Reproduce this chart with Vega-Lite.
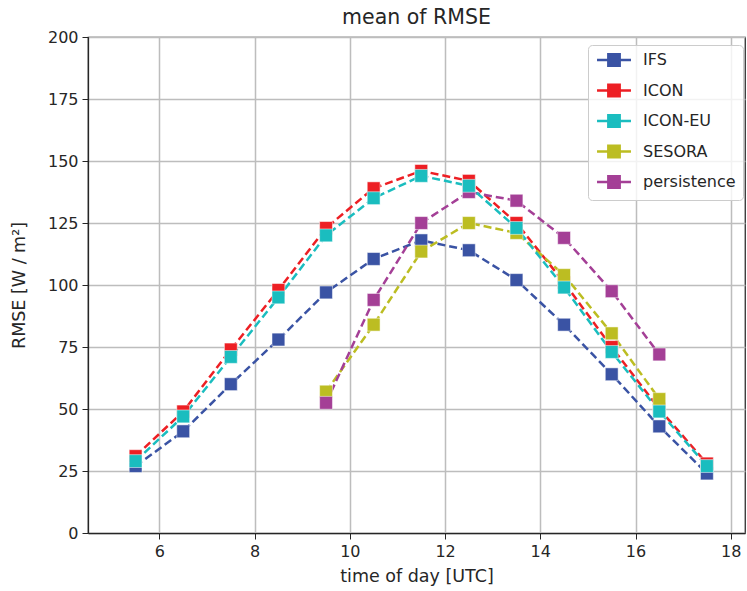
{
  "$schema": "https://vega.github.io/schema/vega-lite/v6.json",
  "width": 657,
  "height": 496,
  "autosize": {"type": "none"},
  "padding": {"left": 88, "top": 37, "right": 2, "bottom": 58},
  "title": {"text": "mean of RMSE", "fontSize": 20.5, "font": "DejaVu Sans", "fontWeight": "normal", "color": "#262626", "offset": 1},
  "config": {
    "font": "DejaVu Sans",
    "view": {"stroke": "#262626", "strokeWidth": 1.25},
    "axis": {"gridColor": "#bdbdbd", "gridWidth": 1.5, "gridOpacity": 1, "domainColor": "#262626", "domainWidth": 1.25, "tickColor": "#262626", "tickSize": 6, "labelFontSize": 16, "labelColor": "#262626", "titleFontSize": 17.5, "titleColor": "#262626", "titleFontWeight": "normal", "labelPadding": 4}
  },
  "data": {"values": [
    {"series": "IFS", "t": 5.5, "v": 27}, {"series": "IFS", "t": 6.5, "v": 41}, {"series": "IFS", "t": 7.5, "v": 60}, {"series": "IFS", "t": 8.5, "v": 78}, {"series": "IFS", "t": 9.5, "v": 97}, {"series": "IFS", "t": 10.5, "v": 110.5}, {"series": "IFS", "t": 11.5, "v": 118}, {"series": "IFS", "t": 12.5, "v": 114}, {"series": "IFS", "t": 13.5, "v": 102}, {"series": "IFS", "t": 14.5, "v": 84}, {"series": "IFS", "t": 15.5, "v": 64}, {"series": "IFS", "t": 16.5, "v": 43}, {"series": "IFS", "t": 17.5, "v": 24},
    {"series": "ICON", "t": 5.5, "v": 31}, {"series": "ICON", "t": 6.5, "v": 49}, {"series": "ICON", "t": 7.5, "v": 74}, {"series": "ICON", "t": 8.5, "v": 98}, {"series": "ICON", "t": 9.5, "v": 123}, {"series": "ICON", "t": 10.5, "v": 139}, {"series": "ICON", "t": 11.5, "v": 146}, {"series": "ICON", "t": 12.5, "v": 142}, {"series": "ICON", "t": 13.5, "v": 125}, {"series": "ICON", "t": 14.5, "v": 101}, {"series": "ICON", "t": 15.5, "v": 75}, {"series": "ICON", "t": 16.5, "v": 50}, {"series": "ICON", "t": 17.5, "v": 28},
    {"series": "SESORA", "t": 9.5, "v": 57}, {"series": "SESORA", "t": 10.5, "v": 84}, {"series": "SESORA", "t": 11.5, "v": 113.5}, {"series": "SESORA", "t": 12.5, "v": 125}, {"series": "SESORA", "t": 13.5, "v": 121}, {"series": "SESORA", "t": 14.5, "v": 104}, {"series": "SESORA", "t": 15.5, "v": 80.5}, {"series": "SESORA", "t": 16.5, "v": 54},
    {"series": "persistence", "t": 9.5, "v": 52.5}, {"series": "persistence", "t": 10.5, "v": 94}, {"series": "persistence", "t": 11.5, "v": 125}, {"series": "persistence", "t": 12.5, "v": 137.5}, {"series": "persistence", "t": 13.5, "v": 134}, {"series": "persistence", "t": 14.5, "v": 119}, {"series": "persistence", "t": 15.5, "v": 97.5}, {"series": "persistence", "t": 16.5, "v": 72},
    {"series": "ICON-EU", "t": 5.5, "v": 29}, {"series": "ICON-EU", "t": 6.5, "v": 47}, {"series": "ICON-EU", "t": 7.5, "v": 71}, {"series": "ICON-EU", "t": 8.5, "v": 95}, {"series": "ICON-EU", "t": 9.5, "v": 120}, {"series": "ICON-EU", "t": 10.5, "v": 135}, {"series": "ICON-EU", "t": 11.5, "v": 144}, {"series": "ICON-EU", "t": 12.5, "v": 140}, {"series": "ICON-EU", "t": 13.5, "v": 123}, {"series": "ICON-EU", "t": 14.5, "v": 99}, {"series": "ICON-EU", "t": 15.5, "v": 73}, {"series": "ICON-EU", "t": 16.5, "v": 49}, {"series": "ICON-EU", "t": 17.5, "v": 27}
  ]},
  "encoding": {
    "x": {"field": "t", "type": "quantitative", "scale": {"domain": [4.5, 18.3], "nice": false, "zero": false}, "axis": {"values": [6, 8, 10, 12, 14, 16, 18], "title": "time of day [UTC]", "titlePadding": 8}},
    "y": {"field": "v", "type": "quantitative", "scale": {"domain": [0, 200], "nice": false}, "axis": {"values": [0, 25, 50, 75, 100, 125, 150, 175, 200], "title": "RMSE [W / m²]", "titlePadding": 19}},
    "color": {"field": "series", "type": "nominal", "scale": {"domain": ["IFS", "ICON", "ICON-EU", "SESORA", "persistence"], "range": ["#3a53a4", "#ed1f24", "#1abdbf", "#bcbd22", "#a43f96"]},
      "legend": {"title": null, "orient": "none", "legendX": 500, "legendY": 8, "labelFontSize": 16, "labelColor": "#262626", "rowPadding": 8.5, "padding": 7, "strokeColor": "#cccccc", "fillColor": "rgba(255,255,255,0.8)", "cornerRadius": 4, "symbolType": "M-3,0H3M-1,-1H1V1H-1Z", "symbolSize": 128, "symbolStrokeWidth": 2.5, "symbolOffset": 11, "labelOffset": 21,
        "encode": {"symbols": {"update": {"fill": {"scale": "color", "field": "value"}, "stroke": {"scale": "color", "field": "value"}, "fillOpacity": {"value": 1}}}}}}
  },
  "layer": [
    {"mark": {"type": "line", "strokeDash": [8, 4], "strokeWidth": 2.5}, "encoding": {"detail": {"field": "series"}}},
    {"mark": {"type": "point", "shape": "square", "filled": true, "size": 165, "opacity": 1, "stroke": "white", "strokeWidth": 0.5}}
  ]
}
